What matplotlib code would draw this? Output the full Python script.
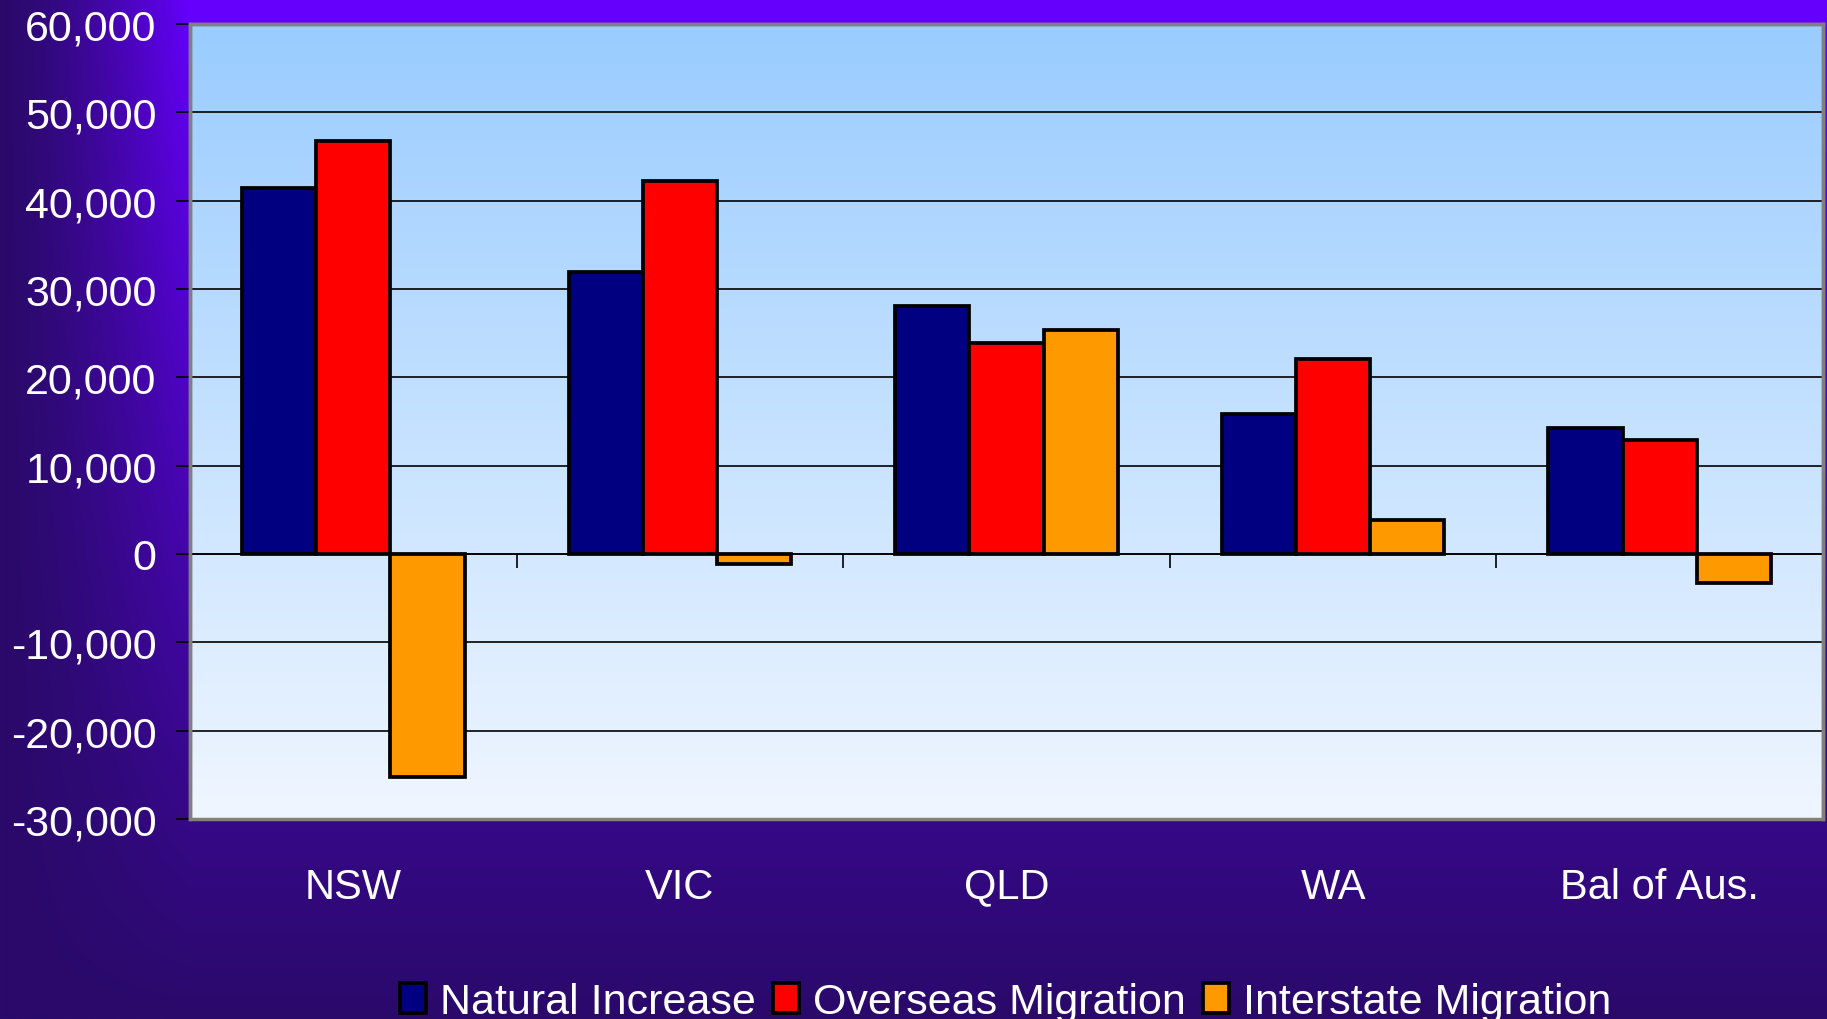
import matplotlib
matplotlib.use("Agg")
import matplotlib.pyplot as plt
import matplotlib.transforms as mtransforms
from matplotlib.patches import Rectangle
import numpy as np

plt.rcParams['font.family'] = ['Liberation Sans', 'DejaVu Sans']

# data
regions = ['NSW', 'VIC', 'QLD', 'WA', 'Bal of Aus.']
natural_increase = [41400, 31900, 28100, 15900, 14300]
overseas_migration = [46700, 42200, 23900, 22100, 12900]
interstate_migration = [-25300, -1100, 25400, 3800, -3300]
series_names = ['Natural Increase', 'Overseas Migration', 'Interstate Migration']
y_ticks = list(range(-30000, 60001, 10000))

colors = ['#000080', '#FF0000', '#FF9900']

W, H = 1827, 1020
fig = plt.figure(figsize=(W / 100, H / 100), dpi=100)

# figure background: violet at top fading to dark purple, darker on the left edge
bg = fig.add_axes([0, 0, 1, 1], zorder=-10)
bg.axis('off')
yy, xx = np.mgrid[0:H, 0:W]
t = (yy / (H - 1))[..., None]
top = np.array([102, 0, 255]) / 255
bottom = np.array([42, 10, 106]) / 255
vert = top * (1 - t) + bottom * t
h = np.clip(xx / 190.0, 0, 1)[..., None] ** 1.4
img = bottom * (1 - h) + vert * h
bg.imshow(img, aspect='auto', extent=[0, 1, 0, 1], origin='upper')
bg.set_xlim(0, 1)
bg.set_ylim(0, 1)

# plot area
left, right, top_px, bot_px = 190, 1823, 25, 820
ax = fig.add_axes([left / W, 1 - bot_px / H, (right - left) / W, (bot_px - top_px) / H])
ax.patch.set_alpha(0)

grad = np.linspace(0, 1, 256)[:, None, None]
c_top = np.array([153, 204, 255]) / 255
c_bot = np.array([240, 246, 255]) / 255
plot_bg = c_top * (1 - grad) + c_bot * grad
ax.imshow(plot_bg, aspect='auto', extent=[0, 1, 0, 1], transform=ax.transAxes,
          zorder=0, origin='upper')

x = np.arange(len(regions))
w = 0.227
for k, vals in enumerate([natural_increase, overseas_migration, interstate_migration]):
    ax.bar(x + (k - 1) * w, vals, width=w, color=colors[k], edgecolor='black',
           linewidth=2.7, label=series_names[k], zorder=2)

ax.set_xlim(-0.5, len(regions) - 0.5)
ax.set_ylim(-30000, 60000)
ax.set_yticks(y_ticks)
ax.set_yticklabels([f"{v:,}" for v in y_ticks])
ax.yaxis.grid(True, color='black', linewidth=1.2)
ax.set_axisbelow(True)

ax.tick_params(axis='y', colors='black', labelcolor='white', labelsize=31,
               length=10, width=1.2, pad=14)
ax.spines['bottom'].set_position(('data', 0))
ax.spines['bottom'].set_color('black')
ax.spines['bottom'].set_linewidth(1.2)
ax.set_xticks(x[:-1] + 0.5)
ax.set_xticklabels([])
ax.tick_params(axis='x', direction='out', length=10, width=1.2, color='black')
for s in ['left', 'top', 'right']:
    ax.spines[s].set_color('#808080')
    ax.spines[s].set_linewidth(2.5)
ax.add_patch(Rectangle((0, 0), 1, 1, transform=ax.transAxes, fill=False,
                       edgecolor='#808080', linewidth=2.5, clip_on=False, zorder=3))

trans = mtransforms.blended_transform_factory(ax.transData, ax.transAxes)
for i, name in enumerate(regions):
    ax.text(i, -0.085, name, transform=trans, ha='center', va='center',
            color='white', fontsize=30)

leg = fig.legend(loc='center', bbox_to_anchor=(1006 / W, 1 - 1003 / H), ncol=3,
                 frameon=False, fontsize=31, handlelength=0.6, handleheight=0.7,
                 handletextpad=0.33, columnspacing=0.4, labelcolor='white')

fig.savefig('out.png', dpi=100)
